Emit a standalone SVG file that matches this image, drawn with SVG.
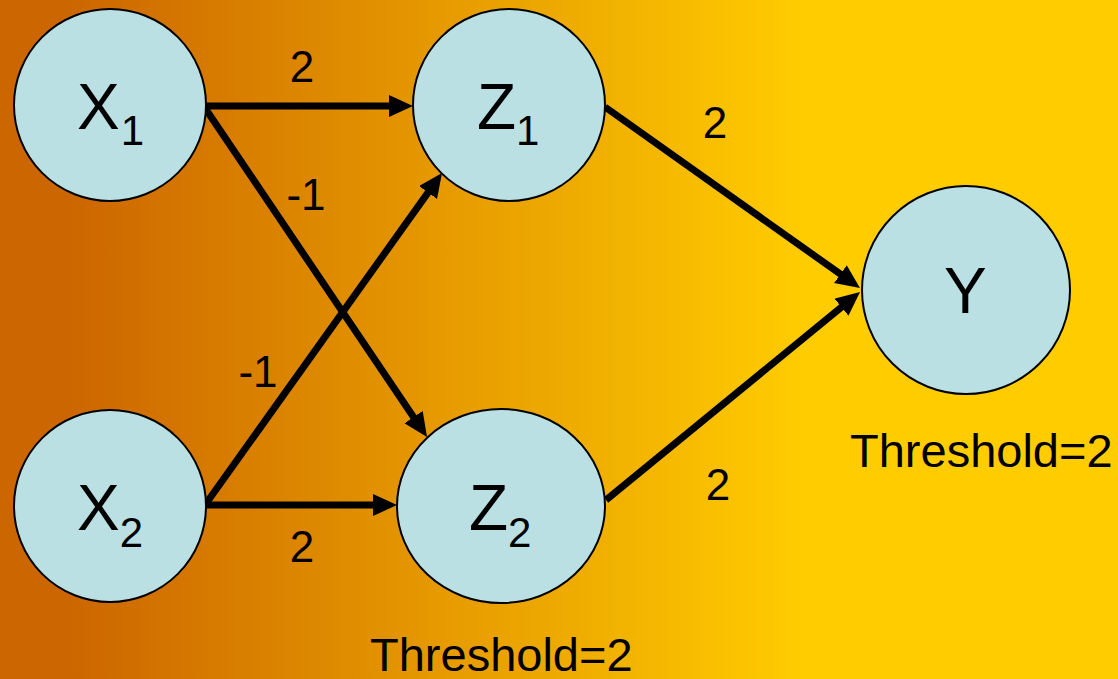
<svg xmlns="http://www.w3.org/2000/svg" width="1118" height="679" viewBox="0 0 1118 679">
<defs>
<linearGradient id="bg" x1="0" y1="0" x2="1118" y2="0" gradientUnits="userSpaceOnUse">
<stop offset="0" stop-color="#CC6600"/>
<stop offset="0.06" stop-color="#CC6600"/>
<stop offset="0.72" stop-color="#FFCC00"/>
<stop offset="1" stop-color="#FFCC00"/>
</linearGradient>
<marker id="arr" markerUnits="userSpaceOnUse" markerWidth="26" markerHeight="24" refX="14" refY="11" orient="auto">
<path d="M0,0 L24,11 L0,22 z" fill="#000"/>
</marker>
<style>
.node{fill:#BBE0E3;stroke:#000;stroke-width:2}
.lbl{font-family:"Liberation Sans",Arial,sans-serif;font-size:64px;fill:#000}
.sub{font-size:42px}
.w{font-family:"Liberation Sans",Arial,sans-serif;font-size:44px;fill:#000;text-anchor:middle}
.th{font-family:"Liberation Sans",Arial,sans-serif;font-size:47px;fill:#000}
.edge{stroke:#000;stroke-width:7;fill:none;marker-end:url(#arr)}
</style>
</defs>
<rect x="0" y="0" width="1118" height="679" fill="url(#bg)"/>
<g id="connectors">
<line class="edge" x1="205" y1="106" x2="403" y2="106"/>
<line class="edge" x1="205" y1="505" x2="387" y2="505"/>
<line class="edge" x1="205" y1="108" x2="421.4" y2="428.7"/>
<line class="edge" x1="205" y1="505" x2="436.2" y2="181.1"/>
<line class="edge" x1="605" y1="107" x2="851.8" y2="282.2"/>
<line class="edge" x1="606" y1="500" x2="852.3" y2="298.3"/>
</g>
<g id="weights">
<text class="w" x="302" y="82">2</text>
<text class="w" x="302" y="562">2</text>
<text class="w" x="306" y="210">-1</text>
<text class="w" x="258" y="387">-1</text>
<text class="w" x="715" y="138">2</text>
<text class="w" x="718" y="500">2</text>
</g>
<g id="X1">
<circle class="node" cx="110" cy="105" r="96"/>
<text class="lbl" x="77" y="129">X<tspan class="sub" dx="1" dy="16">1</tspan></text>
</g>
<g id="X2">
<circle class="node" cx="110" cy="506" r="96"/>
<text class="lbl" x="77" y="530">X<tspan class="sub" dy="17">2</tspan></text>
</g>
<g id="Z1">
<circle class="node" cx="509" cy="105" r="96"/>
<text class="lbl" x="477" y="129">Z<tspan class="sub" dy="16">1</tspan></text>
</g>
<g id="Z2">
<ellipse class="node" cx="501" cy="506" rx="104" ry="97"/>
<text class="lbl" x="469" y="530">Z<tspan class="sub" dy="17">2</tspan></text>
</g>
<g id="Y">
<circle class="node" cx="966" cy="290" r="104"/>
<text class="lbl" x="944" y="313">Y</text>
</g>
<text class="th" x="370" y="671">Threshold=2</text>
<text class="th" x="850" y="467">Threshold=2</text>
</svg>
